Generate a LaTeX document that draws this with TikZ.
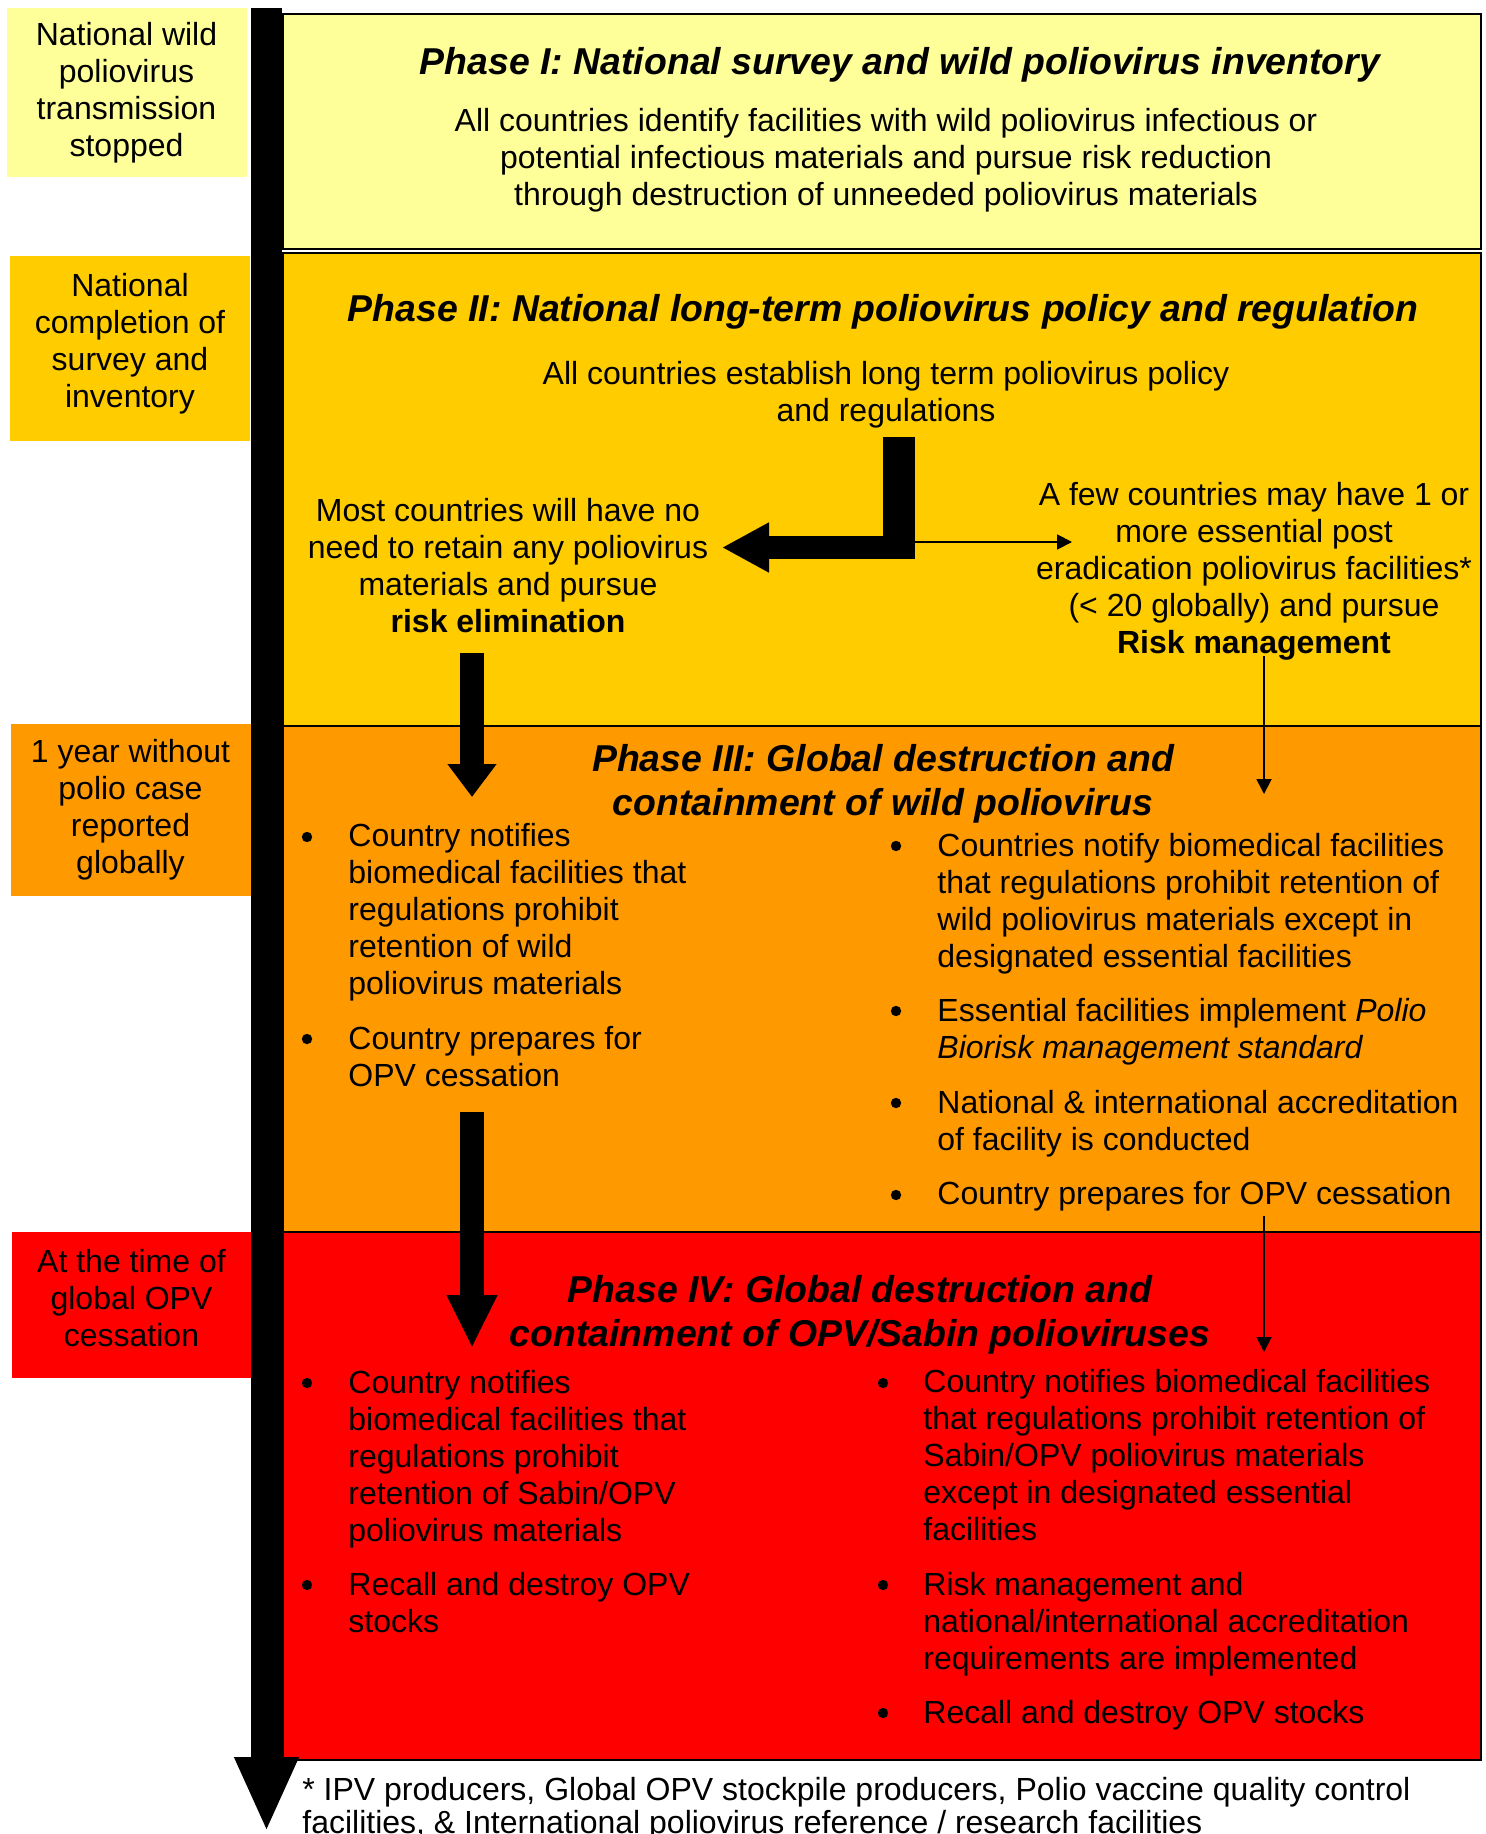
\documentclass[tikz,border=0pt]{standalone}
\usepackage{fontspec}
\setmainfont{Liberation Sans}
\usetikzlibrary{arrows.meta,positioning}

\definecolor{ph1}{HTML}{FFFF99}
\definecolor{ph2}{HTML}{FFCC00}
\definecolor{ph3}{HTML}{FF9900}
\definecolor{ph4}{HTML}{FF0000}

\begin{document}
\begin{tikzpicture}[
  x=0.5pt, y=-0.5pt,
  txt/.style={font=\fontsize{16}{18.5}\selectfont, inner sep=0pt, align=center},
  ttl/.style={font=\fontsize{18.7}{22}\selectfont\bfseries\itshape, inner sep=0pt, align=center},
  lbl/.style={txt, minimum width=120pt},
  phase/.style={draw, line width=0.8pt, minimum width=599pt, anchor=north west, inner sep=0pt},
  lst/.style={txt, align=left, anchor=west},
  dot/.style={circle, fill, inner sep=0pt, minimum size=5.2pt},
  bigarr/.style={line width=12pt, -{Triangle[length=16.5pt, width=23.5pt]}},
  thinarr/.style={line width=0.9pt, -{Triangle[length=7.5pt, width=7.5pt]}}]
  \useasboundingbox (0,0) rectangle (1486,1834);

  % phases
  \node[phase, fill=ph1, minimum height=117.5pt] (p1) at (282,13) {};
  \node[phase, fill=ph2, minimum height=236.5pt] (p2) at (282,252) {};
  \node[phase, fill=ph3, minimum height=253pt] (p3) at (282,725) {};
  \node[phase, fill=ph4, minimum height=264pt] (p4) at (282,1231) {};

  % milestones on the time line
  \node[lbl, fill=ph1, minimum height=84.5pt] (m1) at (126.5,92.5) {National wild\\poliovirus\\transmission\\stopped};
  \node[lbl, fill=ph2, minimum height=92.5pt, text depth=8.5pt] (m2) at (130,348.5) {National\\completion of\\survey and\\inventory};
  \node[lbl, fill=ph3, minimum height=86pt] (m3) at (130.5,810) {1 year without\\polio case\\reported\\globally};
  \node[lbl, fill=ph4, minimum height=73pt, text depth=7pt] (m4) at (131.5,1305) {At the time of\\global OPV\\cessation};

  \coordinate (tltop) at (266.5,8);
  \coordinate (tlend) at (266.5,1832);
  \draw[line width=15.5pt, -{Triangle[length=37.5pt, width=29.5pt]}] (tltop) -- (tlend);

  % Phase I
  \node[ttl] (t1) at (900,65) {Phase I: National survey and wild poliovirus inventory};
  \node[txt] (b1) at (886,160.5) {All countries identify facilities with wild poliovirus infectious or\\potential infectious materials and pursue risk reduction\\through destruction of unneeded poliovirus materials};

  % Phase II
  \node[ttl] (t2) at (883,312) {Phase II: National long-term poliovirus policy and regulation};
  \node[txt] (b2) at (886,394.5) {All countries establish long term poliovirus policy\\and regulations};
  \node[txt] (p2l) at (508,566) {Most countries will have no\\need to retain any poliovirus\\materials and pursue\\\textbf{risk elimination}};
  \node[txt] (p2r) at (1254,571.5) {A few countries may have 1 or\\more essential post\\eradication poliovirus facilities*\\(< 20 globally) and pursue\\\textbf{Risk management}};

  \coordinate (e1) at (899,437);
  \coordinate (e2) at (899,559);
  \coordinate (e3) at (915,547.5);
  \coordinate (e4) at (722,547.5);
  \draw[line width=16pt] (e1) -- (e2);
  \draw[line width=11.5pt, -{Triangle[length=23.5pt, width=23.5pt]}] (e3) -- (e4);
  \coordinate (f1) at (915,542);
  \coordinate (f2) at (1072,542);
  \draw[thinarr] (f1) -- (f2);

  \coordinate (a1) at (472,653);
  \coordinate (a2) at (472,797);
  \draw[bigarr] (a1) -- (a2);
  \coordinate (g1) at (1264,656);
  \coordinate (g2) at (1264,794);
  \draw[thinarr] (g1) -- (g2);

  % Phase III
  \node[ttl] (t3) at (883,784) {Phase III: Global destruction and\\containment of wild poliovirus};
  \node[lst] (i3a) at (348,912.5) {Country notifies\\biomedical facilities that\\regulations prohibit\\retention of wild\\poliovirus materials};
  \node[lst] (i3b) at (348,1057) {Country prepares for\\OPV cessation};
  \node[lst] (r3a) at (937,903.5) {Countries notify biomedical facilities\\that regulations prohibit retention of\\wild poliovirus materials except in\\designated essential facilities};
  \node[lst] (r3b) at (937,1031.5) {Essential facilities implement \textit{Polio}\\\textit{Biorisk management standard}};
  \node[lst] (r3c) at (937,1124) {National \& international accreditation\\of facility is conducted};
  \node[lst] (r3d) at (937,1196) {Country prepares for OPV cessation};

  \coordinate (a3) at (472,1112);
  \coordinate (a4) at (472,1348);
  \draw[line width=12pt, -{Triangle[length=26.5pt, width=23.5pt]}] (a3) -- (a4);
  \coordinate (g3) at (1264,1216);
  \coordinate (g4) at (1264,1352);
  \draw[thinarr] (g3) -- (g4);

  % Phase IV
  \node[ttl] (t4) at (860,1314.5) {Phase IV: Global destruction and\\containment of OPV/Sabin polioviruses};
  \node[lst] (i4a) at (348,1459) {Country notifies\\biomedical facilities that\\regulations prohibit\\retention of Sabin/OPV\\poliovirus materials};
  \node[lst] (i4b) at (348,1602.5) {Recall and destroy OPV\\stocks};
  \node[lst] (r4a) at (923,1455.5) {Country notifies biomedical facilities\\that regulations prohibit retention of\\Sabin/OPV poliovirus materials\\except in designated essential\\facilities};
  \node[lst] (r4b) at (923,1624.5) {Risk management and\\national/international accreditation\\requirements are implemented};
  \node[lst] (r4c) at (923,1715.5) {Recall and destroy OPV stocks};

  \foreach \nm/\x/\y in {d3a/307/837, d3b/307/1039, d3c/896/846, d3d/896/1011, d3e/896/1103, d3f/896/1195,
                         d4a/307/1383, d4b/307/1585, d4c/883/1383, d4d/883/1585, d4e/883/1713}
    \node[dot] (\nm) at (\x,\y) {};

  \node[txt, align=left, anchor=west, font=\fontsize{16}{16.5}\selectfont] (fn) at (302,1809) {* IPV producers, Global OPV stockpile producers, Polio vaccine quality control\\facilities, \& International poliovirus reference / research facilities};
\end{tikzpicture}
\end{document}
